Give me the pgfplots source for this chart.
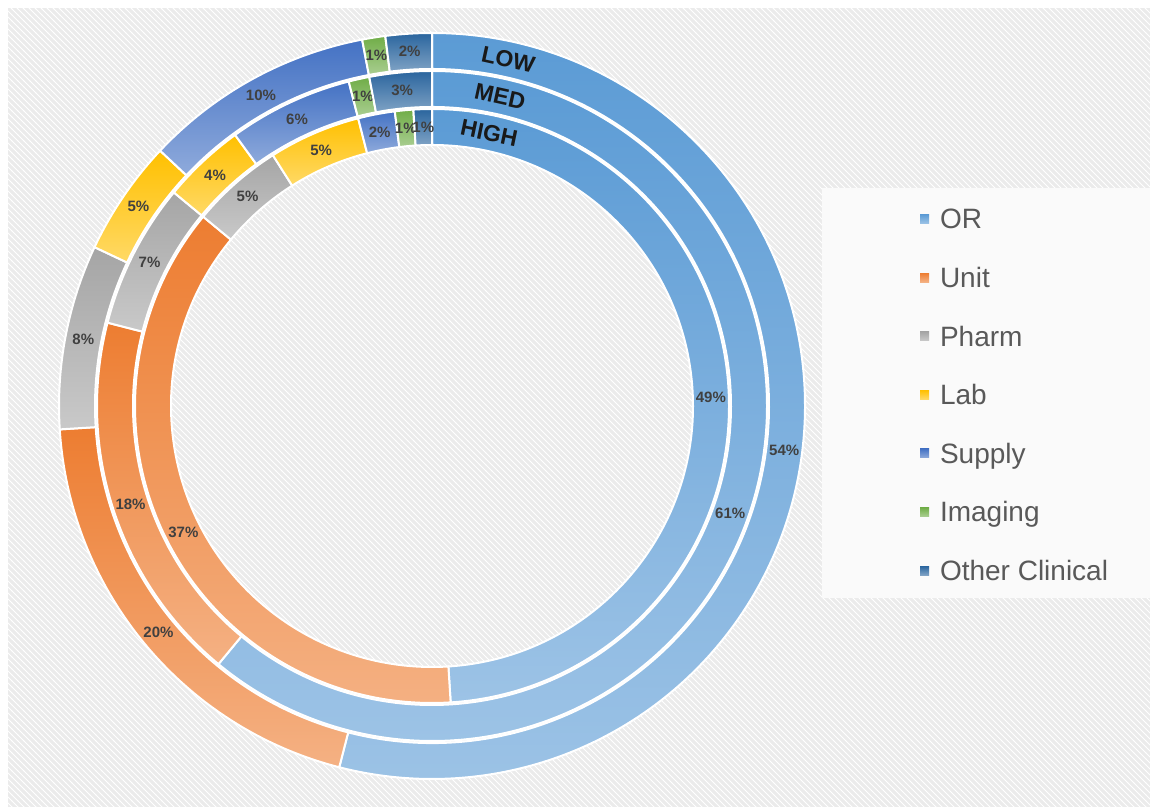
\documentclass[border=0pt]{standalone}
\usepackage{pgfplots}
\pgfplotsset{compat=1.18}
\usetikzlibrary{patterns}
\usepackage{fontspec}
\setmainfont{Liberation Sans}

\definecolor{cOR}{HTML}{5B9BD5}
\definecolor{cUnit}{HTML}{ED7D31}
\definecolor{cPharm}{HTML}{A5A5A5}
\definecolor{cLab}{HTML}{FFC000}
\definecolor{cSupply}{HTML}{4472C4}
\definecolor{cImaging}{HTML}{70AD47}
\definecolor{cOther}{HTML}{2A659E}
\definecolor{lbl}{HTML}{404040}
\definecolor{legtext}{HTML}{595959}
\definecolor{bg}{HTML}{EBEBEB}

% share of each ring (percent), clockwise from 12 o'clock
\def\lowvals{54/cOR,20/cUnit,8/cPharm,5/cLab,10/cSupply,1/cImaging,2/cOther}
\def\medvals{61/cOR,18/cUnit,7/cPharm,4/cLab,6/cSupply,1/cImaging,3/cOther}
\def\highvals{49/cOR,37/cUnit,5/cPharm,5/cLab,2/cSupply,1/cImaging,1/cOther}

% #1 inner radius, #2 outer radius (axis units = px), #3 value list
\newcommand\ring[3]{%
  \pgfmathsetmacro\ri{#1*0.5}%
  \pgfmathsetmacro\ro{#2*0.5}%
  \pgfmathsetmacro\rm{(#1+#2)*0.25}%
  \gdef\acc{0}%
  \foreach \v/\c in #3 {
    \pgfmathsetmacro\ta{90-3.6*\acc}
    \pgfmathsetmacro\tb{90-3.6*(\acc+\v)}
    \pgfmathsetmacro\tm{(\ta+\tb)/2}
    \path[draw=white, line width=1pt, top color=\c, bottom color=\c!60!white]
      ([shift={(\ta:\ro pt)}]ctr) arc[start angle=\ta, end angle=\tb, radius=\ro pt]
      -- ([shift={(\tb:\ri pt)}]ctr) arc[start angle=\tb, end angle=\ta, radius=\ri pt]
      -- cycle;
    \node[font=\bfseries\fontsize{7.5}{9}\selectfont, text=lbl, inner sep=0pt]
      at ([shift={(\tm:\rm pt)}]ctr) {\v\%};
    \pgfmathsetmacro\nacc{\acc+\v}
    \xdef\acc{\nacc}
  }%
}

\begin{document}
\begin{tikzpicture}
\begin{axis}[
  scale only axis,
  width=575pt, height=403.5pt,
  xmin=0, xmax=1150, ymin=0, ymax=807,
  hide axis,
  clip=false,
  legend image code/.code={\fill[#1] (0pt,-2.25pt) rectangle (4.5pt,2.25pt);},
  legend cell align=left,
  legend style={
    at={(0.8,0.746)}, anchor=north west,
    draw=none, fill=none, inner sep=0pt, outer sep=0pt,
    row sep=15.3pt,
    font=\fontsize{14}{16}\selectfont, text=legtext,
    nodes={inner sep=0pt, text height=12pt, text depth=2pt},
    /tikz/every odd column/.style={column sep=5.5pt},
  },
]
\pgfplotsextra{
  \path (axis cs:0,0) rectangle (axis cs:1150,807);
  \fill[bg] (axis cs:8,0) rectangle (axis cs:1150,799);
  \fill[pattern=north west lines, pattern color=white] (axis cs:8,0) rectangle (axis cs:1150,799);
  \fill[white!96!gray] (axis cs:822,209) rectangle (axis cs:1150,619);
  \coordinate (ctr) at (axis cs:432,401);
  \ring{337}{373}{\lowvals}
  \ring{299}{335}{\medvals}
  \ring{261}{297}{\highvals}
  \foreach \t/\r/\a in {LOW/355/12.4, MED/317/12.4, HIGH/279/11.8} {
    \pgfmathsetmacro\rr{\r*0.5}
    \node[rotate=-\a, inner sep=0pt, font=\bfseries\fontsize{11.5}{13}\selectfont, text=black!90]
      at ([shift={(90-\a:\rr pt)}]ctr) {\t};
  }
}
\addlegendimage{top color=cOR, bottom color=cOR!60!white, draw=none}
\addlegendentry{OR}
\addlegendimage{top color=cUnit, bottom color=cUnit!60!white, draw=none}
\addlegendentry{Unit}
\addlegendimage{top color=cPharm, bottom color=cPharm!60!white, draw=none}
\addlegendentry{Pharm}
\addlegendimage{top color=cLab, bottom color=cLab!60!white, draw=none}
\addlegendentry{Lab}
\addlegendimage{top color=cSupply, bottom color=cSupply!60!white, draw=none}
\addlegendentry{Supply}
\addlegendimage{top color=cImaging, bottom color=cImaging!60!white, draw=none}
\addlegendentry{Imaging}
\addlegendimage{top color=cOther, bottom color=cOther!60!white, draw=none}
\addlegendentry{Other Clinical}
\end{axis}
\end{tikzpicture}
\end{document}
